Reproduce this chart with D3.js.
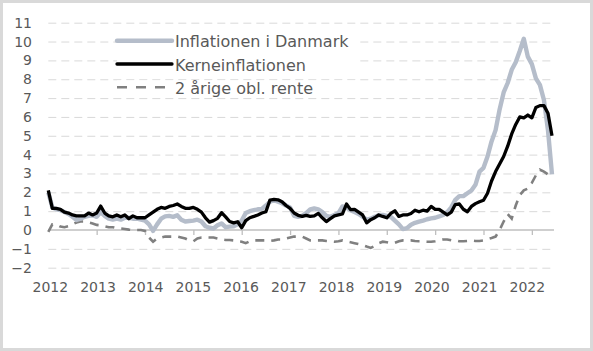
<!DOCTYPE html>
<html><head><meta charset="utf-8">
<script src="https://cdn.jsdelivr.net/npm/d3@7"></script>
<style>
html,body{margin:0;padding:0;background:#fff;}
svg{display:block;}
text{font-family:"DejaVu Sans",sans-serif;}
</style></head>
<body><svg id="c" width="593" height="351"></svg>
<script>
const yearLabels = ["2012","2013","2014","2015","2016","2017","2018","2019","2020","2021","2022"];
const yTicks = [-2,-1,0,1,2,3,4,5,6,7,8,9,10,11];
const seriesNames = ["Inflationen i Danmark","Kerneinflationen","2 årige obl. rente"];

const inflation = [2.0,1.2,1.1,1.05,0.95,0.85,0.7,0.53,0.6,0.7,0.75,0.78,
0.7,0.95,0.75,0.6,0.55,0.6,0.55,0.65,0.65,0.6,0.6,0.55,
0.5,0.3,-0.05,0.3,0.6,0.72,0.75,0.7,0.78,0.55,0.45,0.48,
0.5,0.55,0.45,0.2,0.12,0.08,0.25,0.35,0.15,0.18,0.2,0.3,
0.5,0.9,1.0,1.05,1.1,1.12,1.3,1.5,1.58,1.5,1.42,1.3,
1.2,0.75,0.7,0.75,0.9,1.1,1.15,1.1,0.95,0.75,0.7,0.8,
0.9,1.25,1.2,1.05,0.95,0.85,0.7,0.55,0.6,0.7,0.78,0.8,
0.75,0.7,0.5,0.3,0.05,0.1,0.28,0.38,0.44,0.5,0.57,0.62,
0.65,0.72,0.8,0.95,1.2,1.6,1.8,1.8,1.95,2.1,2.4,3.1,
3.3,3.9,4.7,5.3,6.4,7.3,7.8,8.5,8.9,9.5,10.15,9.2,
8.8,8.05,7.7,6.9,5.3,2.95];

const kerne = [2.1,1.15,1.15,1.1,0.95,0.9,0.8,0.75,0.75,0.75,0.9,0.8,
0.9,1.27,0.9,0.75,0.7,0.8,0.7,0.8,0.6,0.75,0.65,0.65,
0.65,0.8,0.95,1.1,1.2,1.15,1.25,1.3,1.38,1.25,1.15,1.15,
1.2,1.1,0.95,0.65,0.42,0.5,0.62,0.92,0.7,0.45,0.38,0.44,
0.12,0.5,0.65,0.72,0.8,0.9,0.97,1.59,1.62,1.6,1.5,1.3,
1.15,0.9,0.78,0.72,0.78,0.72,0.75,0.88,0.65,0.45,0.6,0.75,
0.8,0.85,1.38,1.08,1.1,0.95,0.8,0.38,0.55,0.65,0.8,0.72,
0.65,0.88,1.02,0.72,0.8,0.8,0.88,1.05,0.97,1.05,1.0,1.25,
1.1,1.1,0.95,0.8,0.95,1.35,1.38,1.1,0.97,1.25,1.4,1.5,
1.58,1.95,2.6,3.1,3.5,3.9,4.45,5.1,5.6,6.0,5.95,6.1,
5.95,6.5,6.6,6.6,6.2,5.0];

const rente = [-0.1,0.3,0.3,0.18,0.15,0.2,0.3,0.4,0.45,0.45,0.4,0.35,
0.27,0.25,0.2,0.15,0.15,0.1,0.08,0.05,0.02,0.0,0.0,0.0,
-0.05,-0.4,-0.62,-0.45,-0.4,-0.35,-0.35,-0.35,-0.35,-0.4,-0.45,-0.55,
-0.6,-0.45,-0.4,-0.4,-0.4,-0.4,-0.45,-0.5,-0.53,-0.53,-0.55,-0.6,
-0.62,-0.7,-0.6,-0.55,-0.55,-0.55,-0.55,-0.58,-0.55,-0.5,-0.5,-0.45,
-0.4,-0.35,-0.35,-0.35,-0.45,-0.55,-0.55,-0.55,-0.55,-0.58,-0.6,-0.62,
-0.6,-0.55,-0.6,-0.65,-0.7,-0.75,-0.8,-0.88,-0.95,-0.85,-0.7,-0.62,
-0.65,-0.7,-0.68,-0.6,-0.55,-0.55,-0.55,-0.58,-0.6,-0.6,-0.62,-0.62,
-0.6,-0.55,-0.5,-0.5,-0.55,-0.55,-0.6,-0.6,-0.58,-0.55,-0.58,-0.58,
-0.55,-0.48,-0.42,-0.35,0.0,0.45,0.85,0.6,1.3,1.85,2.1,2.2,
2.5,2.9,3.2,3.1,2.95,3.0];

// categories: monthly, labelled by the years shown on the axis
const categories = [];
yearLabels.forEach(y => { for (let m = 1; m <= 12; m++) categories.push(y + "-" + String(m).padStart(2,"0")); });
categories.length = inflation.length;

const svg = d3.select("#c");
svg.append("rect").attr("x",1.5).attr("y",1.5).attr("width",590).attr("height",348)
  .attr("fill","#fff").attr("stroke","#d9d9d9").attr("stroke-width",3);

const x = d3.scalePoint().domain(categories).range([48.3, 552]);
const y = d3.scaleLinear().domain([-2, 11]).range([267.7, 22.7]);
const x0 = 48.3, x1 = 554;

// gridlines
const grid = svg.append("g").attr("transform", `translate(${x0},0)`)
  .call(d3.axisLeft(y).tickValues(yTicks.filter(v => v !== 0)).tickSize(-(x1 - x0)).tickFormat(""));
grid.select(".domain").remove();
grid.selectAll("line").attr("stroke","#d9d9d9").attr("stroke-width",1).attr("stroke-dasharray","8,5");

// y labels
const ya = svg.append("g").attr("transform","translate(32,0)")
  .call(d3.axisLeft(y).tickValues(yTicks).tickSize(0).tickPadding(0));
ya.select(".domain").remove();
ya.selectAll("text").attr("fill","#595959").style("font-size","14px").style("font-family","DejaVu Sans");

// zero axis line + ticks
const yearTicks = categories.filter(c => c.endsWith("-01"));
svg.append("line").attr("x1",x0).attr("x2",x1).attr("y1",y(0)).attr("y2",y(0))
  .attr("stroke","#bfbfbf").attr("stroke-width",1.3);
const xt = svg.append("g").attr("transform",`translate(0,${y(0)})`)
  .call(d3.axisBottom(x).tickValues(yearTicks.slice(1)).tickSize(5).tickFormat(""));
xt.select(".domain").remove();
xt.selectAll("line").attr("stroke","#bfbfbf").attr("stroke-width",1.3);

// x labels at bottom
const xl = svg.append("g").attr("transform","translate(0,282)")
  .call(d3.axisBottom(x).tickValues(yearTicks).tickSize(0).tickPadding(0).tickFormat(c => c.slice(0,4)));
xl.select(".domain").remove();
xl.selectAll("text").attr("fill","#595959").style("font-size","14px").style("font-family","DejaVu Sans")
  .attr("dx", (d,i) => 1.5 - i * 0.65);

const line = d3.line().x((d,i) => x(categories[i])).y(d => y(d)).curve(d3.curveLinear);

svg.append("path").datum(rente).attr("d",line).attr("fill","none")
  .attr("stroke","#808080").attr("stroke-width",2.6).attr("stroke-dasharray","9,7");
svg.append("path").datum(inflation).attr("d",line).attr("fill","none")
  .attr("stroke","#b5bdca").attr("stroke-width",4.4).attr("stroke-linejoin","round");
svg.append("path").datum(kerne).attr("d",line).attr("fill","none")
  .attr("stroke","#000").attr("stroke-width",3.3).attr("stroke-linejoin","round");

// legend
const legStyles = [
  {stroke:"#b5bdca", w:4.4, dash:null},
  {stroke:"#000", w:3.3, dash:null},
  {stroke:"#808080", w:2.6, dash:"9,7"}
];
const lg = svg.append("g");
seriesNames.forEach((n,i) => {
  const yy = 40.7 + i*23.3;
  lg.append("rect").attr("x",117).attr("y",yy-7).attr("width",240).attr("height",14).attr("fill","#fff");
  const l = lg.append("line").attr("x1",117).attr("x2",172).attr("y1",yy).attr("y2",yy)
    .attr("stroke",legStyles[i].stroke).attr("stroke-width",legStyles[i].w).attr("stroke-linecap", i<2 ? "round":"butt");
  if (legStyles[i].dash) l.attr("stroke-dasharray","10,9");
  lg.append("text").attr("x",175).attr("y",yy + 1).attr("dy","0.35em").text(n)
    .attr("fill","#595959").style("font-size","16px");
});
</script></body></html>
